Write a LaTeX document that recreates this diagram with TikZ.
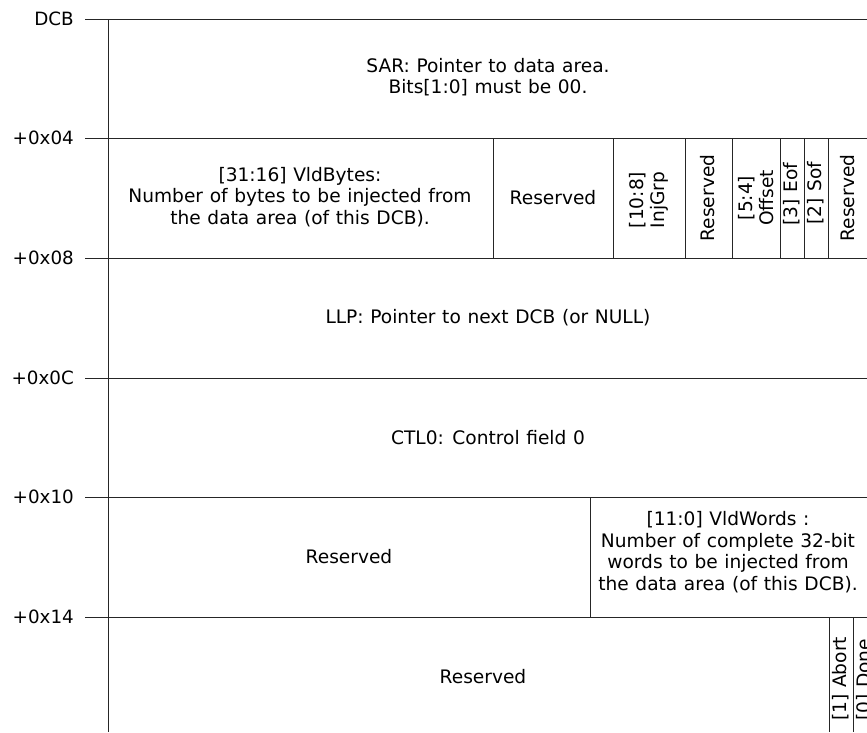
\documentclass[tikz,border=0pt]{standalone}
\usepackage{fontspec}
\setmainfont{DejaVu Sans}[WordSpace=1.12]
\begin{document}
\begin{tikzpicture}[x=1pt,y=-1pt,
  txt/.style={font=\fontsize{18.6}{21.5}\selectfont, align=center, inner sep=0pt},
  lbl/.style={font=\fontsize{18.3}{21.5}\selectfont, anchor=east, inner sep=0pt},
  vtxt/.style={txt, rotate=90},
  rule/.style={line width=1pt, draw=black!85}]
\useasboundingbox (0,0) rectangle (867,732);
\begin{scope}
\clip (0,0) rectangle (867,732);
% horizontal rules
\foreach \y in {19,138,258,378,497,617} {\draw[rule] (85,\y) -- (867,\y);}
% left vertical rule
\draw[rule] (108,19) -- (108,732);
% row 2 dividers
\foreach \x in {493,613,685,732,780,804,828} {\draw[rule] (\x,138) -- (\x,258);}
% row 5 divider
\draw[rule] (590,497) -- (590,617);
% row 6 dividers
\foreach \x in {829,853} {\draw[rule] (\x,617) -- (\x,732);}

% offset labels
\node[lbl] (l0) at (74,19) {DCB};
\node[lbl] (l1) at (74,138) {+0x04};
\node[lbl] (l2) at (74,258) {+0x08};
\node[lbl] (l3) at (74,378) {+0x0C};
\node[lbl] (l4) at (74,497) {+0x10};
\node[lbl] (l5) at (74,617) {+0x14};

% row 1
\node[txt] (sar) at (488,77) {SAR: Pointer to data area.\\Bits[1:0] must be 00.};
% row 2
\node[txt] (vb) at (300,197) {[31:16] VldBytes:\\Number of bytes to be injected from\\the data area (of this DCB).};
\node[txt] (r2a) at (553,198) {Reserved};
\node[vtxt] (inj) at (649,200) {[10:8]\\InjGrp};
\node[vtxt] (r2b) at (708,198) {Reserved};
\node[vtxt] (off) at (756,198) {[5:4]\\Offset};
\node[vtxt] (eof) at (792,194) {[3] Eof};
\node[vtxt] (sof) at (816,193) {[2] Sof};
\node[vtxt] (r2c) at (848,198) {Reserved};
% row 3, 4
\node[txt] (llp) at (488,318) {LLP: Pointer to next DCB (or NULL)};
\node[txt] (ctl) at (488,438) {CTL0: Control field 0};
% row 5
\node[txt] (r5) at (349,557) {Reserved};
\node[txt] (vw) at (728,552) {[11:0] VldWords :\\Number of complete 32-bit\\words to be injected from\\the data area (of this DCB).};
% row 6
\node[txt] (r6) at (483,677) {Reserved};
\node[vtxt, anchor=west] (abort) at (841,721) {[1] Abort};
\node[vtxt, anchor=west] (done) at (865,721) {[0] Done};
\end{scope}
\end{tikzpicture}
\end{document}
